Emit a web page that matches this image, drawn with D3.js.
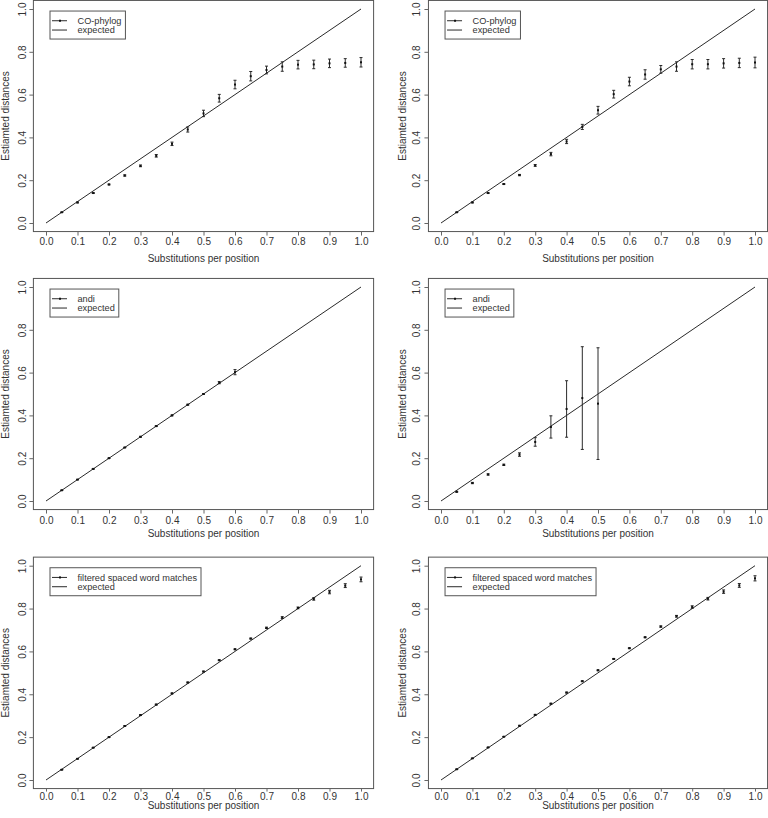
<!DOCTYPE html>
<meta charset="utf-8">
<html>
<head>
    <title>Estimated distances</title>
</head>
<style type="text/css">
    body{ margin: 0; background: #fff; }
    text{ font-family: "Liberation Sans", Arial, Helvetica, sans-serif; fill: #333; }
</style>
<script src="https://cdn.jsdelivr.net/npm/d3@7"></script>
<body>
<script type="text/javascript">
// substitutions per position (x positions of the simulated points)
var subst = [0.05,0.10,0.15,0.20,0.25,0.30,0.35,0.40,0.45,0.50,0.55,0.60,0.65,0.70,0.75,0.80,0.85,0.90,0.95,1.00]
var xTicks = [0,0.1,0.2,0.3,0.4,0.5,0.6,0.7,0.8,0.9,1.0]
var yTicks = [0,0.2,0.4,0.6,0.8,1.0]

// CO-phylog, left and right
var cophylogL    = [0.050,0.096,0.140,0.180,0.222,0.267,0.314,0.370,0.437,0.512,0.583,0.647,0.686,0.715,0.731,0.740,0.741,0.746,0.748,0.751]
var cophylogLErr = [0.001,0.002,0.002,0.002,0.003,0.004,0.006,0.008,0.012,0.015,0.018,0.020,0.022,0.018,0.022,0.020,0.020,0.020,0.020,0.022]
var cophylogR    = [0.050,0.096,0.140,0.182,0.224,0.269,0.322,0.381,0.449,0.527,0.602,0.661,0.694,0.718,0.731,0.742,0.742,0.746,0.748,0.750]
var cophylogRErr = [0.001,0.002,0.002,0.002,0.003,0.004,0.008,0.010,0.012,0.018,0.018,0.020,0.022,0.018,0.022,0.022,0.022,0.022,0.022,0.025]

// andi, left and right
var andiL    = [0.050,0.100,0.150,0.200,0.250,0.300,0.350,0.400,0.450,0.500,0.553,0.602]
var andiLErr = [0.001,0.001,0.001,0.001,0.001,0.002,0.002,0.002,0.002,0.002,0.005,0.012]
var andiR    = [0.043,0.084,0.124,0.169,0.217,0.276,0.346,0.430,0.481,0.455]
var andiRErr = [0.002,0.003,0.003,0.003,0.008,0.020,0.052,0.132,0.240,0.261]

// filtered spaced word matches, left and right
var fswmL    = [0.048,0.099,0.151,0.200,0.252,0.303,0.352,0.404,0.455,0.506,0.559,0.610,0.660,0.710,0.758,0.803,0.845,0.877,0.907,0.936]
var fswmLErr = [0.001,0.001,0.001,0.001,0.001,0.002,0.002,0.002,0.002,0.002,0.002,0.002,0.002,0.003,0.004,0.004,0.006,0.008,0.009,0.011]
var fswmR    = [0.050,0.101,0.152,0.202,0.253,0.304,0.356,0.408,0.461,0.512,0.565,0.615,0.666,0.716,0.764,0.807,0.846,0.879,0.908,0.941]
var fswmRErr = [0.001,0.001,0.001,0.001,0.002,0.002,0.002,0.002,0.002,0.002,0.002,0.002,0.002,0.003,0.004,0.006,0.006,0.008,0.009,0.012]

var panels = [
    {col: 0, row: 0, name: "CO-phylog", y: cophylogL, err: cophylogLErr},
    {col: 1, row: 0, name: "CO-phylog", y: cophylogR, err: cophylogRErr},
    {col: 0, row: 1, name: "andi", y: andiL, err: andiLErr},
    {col: 1, row: 1, name: "andi", y: andiR, err: andiRErr},
    {col: 0, row: 2, name: "filtered spaced word matches", y: fswmL, err: fswmLErr},
    {col: 1, row: 2, name: "filtered spaced word matches", y: fswmR, err: fswmRErr}
]

// pixel spots of 0 and 1 on each column / row
var colRange = [[46, 361], [441, 755]]
var rowRange = [[223, 9], [501, 287], [780, 565.7]]
var tickLen = [4, 4, 3]
var tickLabOff = [9.5, 10.5, 7.5]   // below box bottom
var titleOff = [27, 24, 17]
var yTickLabX = [22, 416]
var yTitleX = [5, 402]

var svg = d3.select("body").append("svg")
    .attr("width", 768)
    .attr("height", 818)

var ink = "#2a2a2a"

panels.forEach(p => {
    var x = d3.scaleLinear().domain([0, 1]).range(colRange[p.col])
    var y = d3.scaleLinear().domain([0, 1]).range(rowRange[p.row])
    var left = x(-0.04), right = x(1.04), top = y(1.04), bottom = y(-0.04)
    var g = svg.append("g")

    // box
    g.append("rect")
        .attr("x", left).attr("y", top)
        .attr("width", right - left).attr("height", bottom - top)
        .attr("fill", "none").attr("stroke", "#555").attr("stroke-width", 1)

    // x axis ticks + labels
    var xa = g.append("g").attr("transform", "translate(0," + bottom + ")")
        .call(d3.axisBottom(x).tickValues(xTicks).tickSize(tickLen[p.row]).tickSizeOuter(0).tickFormat(d3.format(".1f")))
    xa.select(".domain").remove()
    xa.selectAll("line").attr("stroke", "#666")
    xa.selectAll("text")
        .attr("y", tickLabOff[p.row]).attr("dy", "0.35em")
        .style("font-size", "10px")
    xa.attr("font-family", null)

    // y axis ticks + rotated labels
    var ya = g.append("g").attr("transform", "translate(" + left + ",0)")
        .call(d3.axisLeft(y).tickValues(yTicks).tickSize(4).tickSizeOuter(0).tickFormat(d3.format(".1f")))
    ya.select(".domain").remove()
    ya.selectAll("line").attr("stroke", "#666")
    ya.selectAll("text")
        .attr("transform", "rotate(-90)")
        .attr("text-anchor", "middle")
        .attr("x", 0)
        .attr("y", -(left - yTickLabX[p.col]))
        .attr("dy", "0.35em")
        .style("font-size", "10px")
    ya.attr("font-family", null)

    // axis titles
    g.append("text")
        .attr("x", (left + right) / 2).attr("y", bottom + titleOff[p.row])
        .attr("dy", "0.35em").attr("text-anchor", "middle")
        .style("font-size", "10px")
        .text("Substitutions per position")
    g.append("text")
        .attr("transform", "translate(" + yTitleX[p.col] + "," + ((top + bottom) / 2) + ") rotate(-90)")
        .attr("dy", "0.35em").attr("text-anchor", "middle")
        .style("font-size", "10px")
        .text("Estiamted distances")

    // expected line
    g.append("line")
        .attr("x1", x(0)).attr("y1", y(0)).attr("x2", x(1)).attr("y2", y(1))
        .attr("stroke", ink).attr("stroke-width", 1)

    var pts = p.y.map((v, i) => ({x: subst[i], y: v, e: p.err[i]}))

    // error bars
    var eb = g.selectAll(".eb").data(pts).enter().append("g")
    eb.append("line")
        .attr("x1", d => x(d.x)).attr("x2", d => x(d.x))
        .attr("y1", d => y(d.y - d.e)).attr("y2", d => y(d.y + d.e))
        .attr("stroke", ink).attr("stroke-width", 1)
    eb.append("line")
        .attr("x1", d => x(d.x) - 1.5).attr("x2", d => x(d.x) + 1.5)
        .attr("y1", d => y(d.y - d.e)).attr("y2", d => y(d.y - d.e))
        .attr("stroke", ink).attr("stroke-width", 1)
    eb.append("line")
        .attr("x1", d => x(d.x) - 1.5).attr("x2", d => x(d.x) + 1.5)
        .attr("y1", d => y(d.y + d.e)).attr("y2", d => y(d.y + d.e))
        .attr("stroke", ink).attr("stroke-width", 1)

    // points
    g.selectAll(".pt").data(pts).enter().append("rect")
        .attr("x", d => x(d.x) - 1).attr("y", d => y(d.y) - 1)
        .attr("width", 2).attr("height", 2)
        .attr("fill", "#111")

    // legend
    var lx = left + 16.6, ly = top + 10.6
    var lg = g.append("g").attr("transform", "translate(" + lx + "," + ly + ")")
    var box = lg.append("rect").attr("height", 28)
        .attr("fill", "#fff").attr("stroke", "#555").attr("stroke-width", 1)
    lg.append("line").attr("x1", 2).attr("x2", 17).attr("y1", 9.7).attr("y2", 9.7)
        .attr("stroke", ink)
    lg.append("rect").attr("x", 9).attr("y", 8.7).attr("width", 2).attr("height", 2).attr("fill", "#111")
    lg.append("line").attr("x1", 2).attr("x2", 17).attr("y1", 19).attr("y2", 19)
        .attr("stroke", ink)
    var t1 = lg.append("text").attr("x", 27.5).attr("y", 9.7).attr("dy", "0.35em")
        .style("font-size", "9.2px").text(p.name)
    var t2 = lg.append("text").attr("x", 27.5).attr("y", 19).attr("dy", "0.35em")
        .style("font-size", "9.2px").text("expected")
    var w = Math.max(t1.node().getComputedTextLength(), t2.node().getComputedTextLength())
    box.attr("width", 27.5 + w + 4)
})
</script>
</body>
</html>
